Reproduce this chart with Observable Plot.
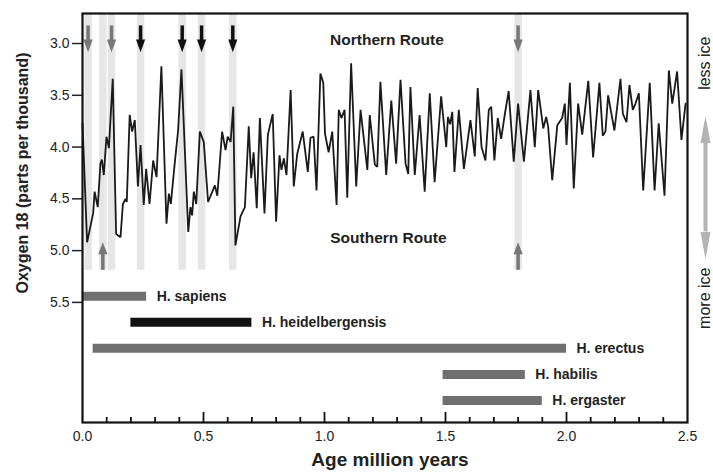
<!DOCTYPE html>
<html><head><meta charset="utf-8">
<script src="https://cdn.jsdelivr.net/npm/d3@7"></script>
<script src="https://cdn.jsdelivr.net/npm/@observablehq/plot@0.6"></script>
<style>html,body{margin:0;padding:0;background:#fff}</style>
</head><body><div id="chart"></div>
<script>
// ---- data ----
const ages = [0.000,0.019,0.044,0.050,0.063,0.074,0.080,0.088,0.099,0.104,0.109,0.125,0.139,0.157,0.167,0.178,0.183,0.195,0.205,0.216,0.229,0.240,0.253,0.263,0.277,0.292,0.306,0.326,0.347,0.357,0.365,0.381,0.395,0.409,0.437,0.446,0.453,0.460,0.470,0.485,0.501,0.519,0.547,0.557,0.577,0.591,0.600,0.612,0.623,0.632,0.653,0.671,0.687,0.697,0.707,0.720,0.733,0.752,0.766,0.786,0.800,0.814,0.822,0.832,0.843,0.860,0.873,0.887,0.910,0.931,0.942,0.955,0.967,0.983,0.995,1.002,1.017,1.032,1.050,1.059,1.070,1.083,1.094,1.110,1.131,1.149,1.177,1.187,1.208,1.218,1.231,1.255,1.276,1.296,1.314,1.335,1.346,1.355,1.373,1.393,1.414,1.435,1.455,1.482,1.503,1.510,1.519,1.528,1.537,1.555,1.576,1.603,1.621,1.633,1.649,1.665,1.679,1.689,1.702,1.716,1.730,1.744,1.761,1.782,1.800,1.824,1.851,1.869,1.883,1.904,1.916,1.924,1.941,1.962,1.982,1.993,2.000,2.014,2.030,2.048,2.065,2.090,2.110,2.136,2.150,2.161,2.172,2.198,2.223,2.233,2.248,2.260,2.274,2.285,2.299,2.317,2.344,2.364,2.381,2.405,2.423,2.437,2.457,2.475,2.492];
const o18 = [3.77,4.92,4.64,4.43,4.58,4.16,4.12,4.27,3.90,3.95,4.01,3.34,4.84,4.87,4.55,4.50,4.53,3.69,3.85,3.74,4.38,3.98,4.56,4.21,4.55,4.13,4.29,3.22,4.74,4.45,4.55,4.16,3.84,3.25,4.82,4.58,4.66,4.43,4.55,3.85,3.95,4.53,4.37,4.47,3.85,4.03,3.90,3.95,3.61,4.95,4.67,4.58,3.80,4.30,4.05,4.59,3.72,4.64,3.88,3.68,4.72,4.08,4.22,4.11,4.27,3.45,4.38,4.07,3.85,4.24,3.91,3.90,4.42,3.29,3.38,3.87,4.05,3.85,4.56,3.64,3.72,3.64,4.49,3.19,4.38,3.64,4.22,3.69,4.17,4.19,3.37,4.27,3.55,4.16,3.35,4.16,4.26,3.42,4.27,3.69,4.43,3.48,4.34,3.51,4.00,3.71,3.78,3.66,4.24,3.64,4.21,3.74,4.09,3.43,4.00,4.13,3.64,3.61,4.13,3.72,3.92,3.70,3.46,4.14,3.58,4.14,3.45,4.00,3.45,3.82,3.71,3.80,4.32,3.79,3.72,3.58,3.98,3.38,4.40,3.58,3.88,3.36,4.10,3.38,3.89,3.85,3.50,3.84,3.34,3.68,3.76,3.40,3.64,3.58,3.48,4.42,3.38,4.42,3.77,4.47,3.26,3.58,3.27,3.93,3.58];

const species = ["H. sapiens","H. heidelbergensis","H. erectus","H. habilis","H. ergaster"];
const spStart = [0.0, 0.20, 0.044, 1.49, 1.49];
const spEnd   = [0.265, 0.70, 2.0, 1.83, 1.90];

const bandAges = [0.023, 0.084, 0.12, 0.24, 0.412, 0.492, 0.621, 1.8];
const downArrowAges = [0.023, 0.12, 0.24, 0.412, 0.492, 0.621, 1.8];
const downArrowKind = ["gray","gray","black","black","black","black","gray"];
const upArrowAges = [0.084, 1.8];

const routeLabels = ["Northern Route", "Southern Route"];
const routeAge = [1.258, 1.264];
const routeO18 = [2.966, 4.88];

const iceLabels = ["less ice", "more ice"];
const iceO18 = [3.19, 5.46];

const yTicks = [3.0, 3.5, 4.0, 4.5, 5.0, 5.5];
const xMajor = [0, 0.5, 1.0, 1.5, 2.0, 2.5];
const xMinor = d3.range(0, 25).map(i => i / 10).filter(v => Math.round(v * 10) % 5 !== 0);

// ---- layout ----
const W = 713, H = 474, mL = 82, mR = 26, mT = 13, mB = 52;
const frameH = H - mT - mB;
const yDomain = [2.71, 6.66];
const GRAY = "#707070", BLACK = "#111", BAND = "#e6e6e6";

const series = ages.map((a, i) => ({age: a, o18: o18[i]}));
const rowY = i => 5.44 + 0.252 * i;
const bars = species.map((s, i) => ({name: s, x1: spStart[i], x2: spEnd[i], y: rowY(i)}));
const downs = downArrowAges.map((a, i) => ({age: a, kind: downArrowKind[i]}));
const routes = routeLabels.map((t, i) => ({t, x: routeAge[i], y: routeO18[i]}));
const ice = iceLabels.map((t, i) => ({t, y: iceO18[i]}));

function head(ratio, dir) {
  return {draw(ctx, size) {
    const r = Math.sqrt(size / Math.PI);
    ctx.moveTo(0, dir * ratio * r);
    ctx.lineTo(-r, 0);
    ctx.lineTo(r, 0);
    ctx.closePath();
  }};
}
const kindColor = k => k === "black" ? BLACK : "#777";

const chart = Plot.plot({
  width: W, height: H,
  marginLeft: mL, marginRight: mR, marginTop: mT, marginBottom: mB,
  style: {fontFamily: "'Liberation Sans', Arial, Helvetica, sans-serif", fontSize: "14px", color: "#222", background: "#fff"},
  x: {domain: [0, 2.5]},
  y: {domain: yDomain, reverse: true},
  marks: [
    // highlighted periods
    Plot.ruleX(bandAges, {x: d => d, y1: 2.72, y2: 5.19, stroke: BAND, strokeWidth: 7.5}),
    // oxygen isotope record
    Plot.line(series, {x: "age", y: "o18", stroke: "#1a1a1a", strokeWidth: 1.8, strokeLinejoin: "miter"}),
    // down arrows (top)
    Plot.ruleX(downs, {x: "age", y1: 2.83, y2: 2.975, stroke: d => kindColor(d.kind), strokeWidth: 3.5}),
    Plot.dot(downs, {x: "age", y: 2.96, r: 4.6, symbol: head(2.8, 1), fill: d => kindColor(d.kind), stroke: "none"}),
    // up arrows (bottom)
    Plot.ruleX(upArrowAges, {x: d => d, y1: 5.025, y2: 5.19, stroke: "#777", strokeWidth: 3.5}),
    Plot.dot(upArrowAges, {x: d => d, y: 5.035, r: 4.6, symbol: head(2.6, -1), fill: "#777", stroke: "none"}),
    // species ranges
    Plot.ruleY(bars, {y: "y", x1: "x1", x2: "x2", stroke: d => d.name === "H. heidelbergensis" ? BLACK : GRAY, strokeWidth: 9}),
    Plot.text(bars, {x: "x2", y: "y", text: "name", textAnchor: "start", dx: 10, fontWeight: "bold", fontSize: 14, fill: "#222"}),
    // route labels
    Plot.text(routes, {x: "x", y: "y", text: "t", fontWeight: "bold", fontSize: 15.5, fill: "#222"}),
    // right side ice indicator
    Plot.ruleX([2.5], {x: d => d, y1: 3.96, y2: 4.82, dx: 18, stroke: "#b3b3b3", strokeWidth: 4}),
    Plot.dot([2.5], {x: d => d, y: 3.96, dx: 18, r: 5, symbol: head(5.4, -1), fill: "#b3b3b3", stroke: "none"}),
    Plot.dot([2.5], {x: d => d, y: 4.82, dx: 18, r: 5, symbol: head(5.4, 1), fill: "#b3b3b3", stroke: "none"}),
    Plot.text(ice, {x: () => 2.5, y: "y", text: "t", dx: 17, rotate: -90, textAnchor: "middle", fontSize: 16, fill: "#222"}),
    // axes
    Plot.axisY({ticks: yTicks, tickFormat: d3.format(".1f"), tickSize: 10, tickPadding: 3, strokeWidth: 1.5, label: null, fontSize: 14}),
    Plot.axisX({ticks: xMajor, tickFormat: d3.format(".1f"), tickSize: 0, tickPadding: 9, label: null, fontSize: 14}),
    Plot.tickX(xMajor.slice(1, -1), {x: d => d, insetTop: frameH - 10, stroke: "#111", strokeWidth: 1.8}),
    Plot.tickX(xMinor, {x: d => d, insetTop: frameH - 5, stroke: "#111", strokeWidth: 1.8}),
    Plot.text(["Oxygen 18 (parts per thousand)"], {frameAnchor: "left", textAnchor: "middle", dx: -60, dy: -45, rotate: -90, fontWeight: "bold", fontSize: 16, fill: "#222"}),
    Plot.text(["Age million years"], {frameAnchor: "bottom", dx: 5, dy: 43, fontWeight: "bold", fontSize: 19, fill: "#222"}),
    Plot.frame({stroke: "#111", strokeWidth: 2.2})
  ]
});
document.getElementById("chart").appendChild(chart);
</script>
</body></html>
